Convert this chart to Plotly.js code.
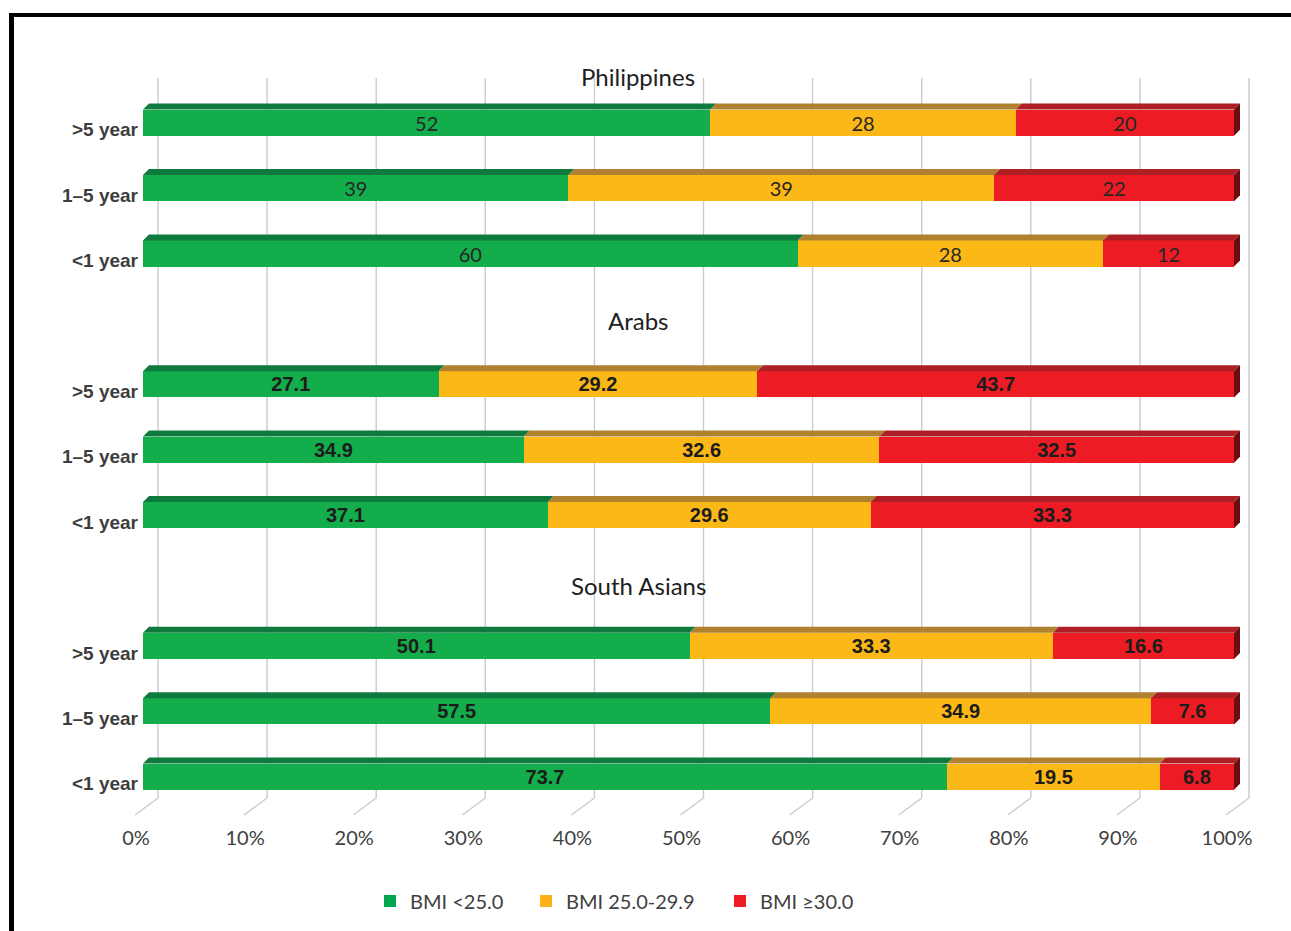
<!DOCTYPE html>
<html>
<head>
<meta charset="utf-8">
<script src="https://cdn.plot.ly/plotly-3.0.1.min.js"></script>
<style>
  html, body { margin: 0; padding: 0; background: #ffffff; }
  #wrap { position: relative; width: 1291px; height: 931px; overflow: hidden; }
  #chart { position: absolute; left: 0; top: 0; width: 1291px; height: 931px; }
  #frame { position: absolute; left: 9px; top: 13px; width: 1400px; height: 1000px;
           border-top: 4px solid #000; border-left: 5px solid #000; pointer-events: none; }
</style>
</head>
<body>
<div id="wrap">
  <div id="chart"></div>
  <div id="frame"></div>
</div>
<script>
// ---------------- DATA ----------------
const groups = ['Philippines', 'Arabs', 'South Asians'];
const periods = ['>5 year', '1–5 year', '<1 year'];
const seriesNames = ['BMI <25.0', 'BMI 25.0-29.9', 'BMI ≥30.0'];
// rows: Philippines (>5, 1–5, <1), Arabs (>5, 1–5, <1), South Asians (>5, 1–5, <1)
const bmiUnder25 = [52, 39, 60, 27.1, 34.9, 37.1, 50.1, 57.5, 73.7];
const bmi25to29  = [28, 39, 28, 29.2, 32.6, 29.6, 33.3, 34.9, 19.5];
const bmi30plus  = [20, 22, 12, 43.7, 32.5, 33.3, 16.6, 7.6, 6.8];
const xTickVals = [0, 10, 20, 30, 40, 50, 60, 70, 80, 90, 100];
const xTickText = ['0%', '10%', '20%', '30%', '40%', '50%', '60%', '70%', '80%', '90%', '100%'];

// ---------------- STYLE / LAYOUT ----------------
const W = 1291, H = 931;
const M = {l: 143, r: 40, t: 78, b: 133, autoexpand: false};
const pxPerX = 10.91;                  // pixels per percentage point
const plotW = W - M.l - M.r;
const plotH = H - M.t - M.b;
const xMax = plotW / pxPerX;
const slot0Px = 57.3, slotPx = 65.4;   // pixel centre of slot 0 and slot pitch
const yLow = (M.t - slot0Px) / slotPx;
const yHigh = (H - M.b - slot0Px) / slotPx;
const barW = 0.4;
const depthX = 6 / pxPerX, depthY = 6 / slotPx;

const frontColors = ['#13ad4b', '#fbb817', '#ed1c24'];
const topColors   = ['#0f7a3d', '#b0812f', '#ae1f25'];
const sideColor   = '#6b0c10';
const legendColors = ['#00a650', '#fbb117', '#ed1c24'];
const legendLeftPx = [370, 526, 720];  // left edge of each legend entry (px)

const series = [bmiUnder25, bmi25to29, bmi30plus];

// slot positions: group title slot at g*4, rows at g*4 + r + 1
const rowPos = [], rowLabels = [], rowGroup = [];
groups.forEach((g, gi) => {
  periods.forEach((p, pi) => {
    rowPos.push(gi * 4 + pi + 1);
    rowLabels.push(p);
    rowGroup.push(gi);
  });
});

const traces = series.map((vals, si) => ({
  type: 'bar',
  orientation: 'h',
  name: seriesNames[si],
  x: vals,
  y: rowPos,
  width: barW,
  text: vals.map(v => String(v)),
  textposition: 'inside',
  insidetextanchor: 'middle',
  textangle: 0,
  constraintext: 'none',
  textfont: {
    family: rowGroup.map(g => g === 0 ? 'Lato' : 'Liberation Sans'),
    size: rowGroup.map(g => g === 0 ? 20 : 20),
    weight: rowGroup.map(g => g === 0 ? 'normal' : 'bold'),
    color: rowGroup.map(g => g === 0 ? '#262626' : '#1c1c1c')
  },
  marker: {color: frontColors[si], line: {width: 0}},
  hoverinfo: 'skip',
  showlegend: false
}));

// legend-only traces with the flat legend colours, one legend box each
const legendIds = ['legend', 'legend2', 'legend3'];
seriesNames.forEach((n, si) => {
  traces.push({
    type: 'bar', orientation: 'h', name: n, x: [null], y: [null],
    marker: {color: legendColors[si]}, showlegend: true, hoverinfo: 'skip',
    legend: legendIds[si]
  });
});

const shapes = [];
// grid lines (drawn at the back wall, shifted right, with slanted floor lines)
xTickVals.forEach(t => {
  const px = t / xMax;
  shapes.push({type: 'line', layer: 'below', xref: 'paper', yref: 'paper',
    xsizemode: 'pixel', xanchor: px, x0: 15, x1: 15, y0: 0, y1: 1,
    line: {color: '#c5ccd5', width: 1.4}});
  shapes.push({type: 'line', layer: 'below', xref: 'paper', yref: 'paper',
    xsizemode: 'pixel', xanchor: px, x0: 15, x1: -8,
    ysizemode: 'pixel', yanchor: 0, y0: 0, y1: -17,
    line: {color: '#c5ccd5', width: 1.4}});
});
// 3-D top faces and end side faces computed from the data
rowPos.forEach((yk, i) => {
  let base = 0;
  const yTop = yk - barW / 2, yBot = yk + barW / 2;
  series.forEach((vals, si) => {
    const x0 = base, x1 = base + vals[i];
    shapes.push({type: 'path', xref: 'x', yref: 'y', layer: 'above',
      path: `M ${x0},${yTop} L ${x0 + depthX},${yTop - depthY} L ${x1 + depthX},${yTop - depthY} L ${x1},${yTop} Z`,
      fillcolor: topColors[si], line: {width: 0}});
    base = x1;
  });
  shapes.push({type: 'path', xref: 'x', yref: 'y', layer: 'above',
    path: `M ${base},${yTop} L ${base + depthX},${yTop - depthY} L ${base + depthX},${yBot - depthY} L ${base},${yBot} Z`,
    fillcolor: sideColor, line: {width: 0}});
});

// group titles, placed at their title slots (paper coords so they may sit above the plot area)
const titleShift = [-19, -2, -5];
const annotations = groups.map((g, gi) => {
  const slotPixel = slot0Px + gi * 4 * slotPx - titleShift[gi];
  return {
    xref: 'x', yref: 'paper', x: 45.4, y: (H - M.b - slotPixel) / plotH,
    text: g, showarrow: false, xanchor: 'center', yanchor: 'middle',
    font: {family: 'Lato', size: 24, color: '#1e1e1e'}
  };
});

const layout = {
  width: W, height: H,
  margin: M,
  paper_bgcolor: '#ffffff', plot_bgcolor: 'rgba(0,0,0,0)',
  barmode: 'stack',
  font: {family: 'Lato', color: '#404040'},
  xaxis: {
    range: [0, xMax], showgrid: false, zeroline: false, showline: false,
    tickvals: xTickVals, ticktext: xTickText, ticks: '', ticklen: 0,
    ticklabelshift: -7, ticklabelstandoff: 26, automargin: false,
    tickfont: {family: 'Lato', size: 20, color: '#404040'}, fixedrange: true
  },
  yaxis: {
    range: [yHigh, yLow], showgrid: false, zeroline: false, showline: false,
    tickvals: rowPos, ticktext: rowLabels, ticks: '', ticklen: 0,
    ticklabelstandoff: 4, ticklabelshift: -7, automargin: false,
    tickfont: {family: 'Liberation Sans', size: 19, color: '#3d3d3d', weight: 'bold'},
    fixedrange: true
  },
  shapes: shapes,
  annotations: annotations,
  showlegend: true
};
legendIds.forEach((id, li) => {
  layout[id] = {
    orientation: 'h', x: (legendLeftPx[li] - M.l) / plotW, xanchor: 'left',
    y: -0.143, yanchor: 'middle',
    font: {family: 'Lato', size: 20, color: '#404040'},
    bgcolor: 'rgba(0,0,0,0)', borderwidth: 0
  };
});

Plotly.newPlot('chart', traces, layout, {staticPlot: true, displayModeBar: false});
</script>
</body>
</html>
